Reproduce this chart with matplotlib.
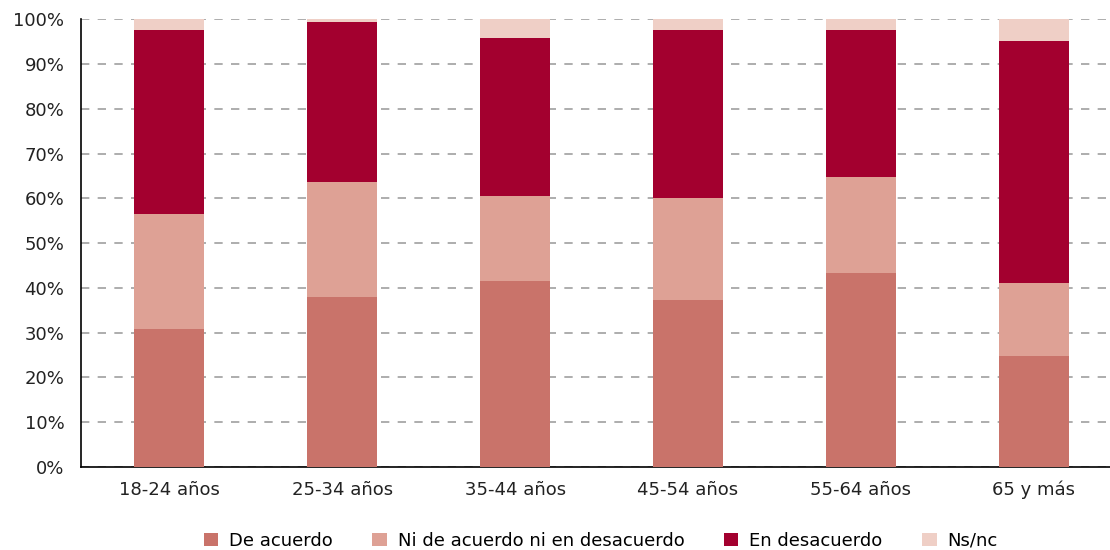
import matplotlib.pyplot as plt
import numpy as np

grupos = ["18-24 años", "25-34 años", "35-44 años", "45-54 años", "55-64 años", "65 y más"]
de_acuerdo = [30.8, 37.9, 41.5, 37.3, 43.3, 24.8]
ni_ni = [25.7, 25.7, 19.0, 22.7, 21.4, 16.3]
en_desacuerdo = [41.0, 35.7, 35.3, 37.5, 32.8, 54.0]
ns_nc = [2.5, 0.7, 4.2, 2.5, 2.5, 4.9]

series = [
    ("De acuerdo", de_acuerdo, "#C9736A"),
    ("Ni de acuerdo ni en desacuerdo", ni_ni, "#DEA195"),
    ("En desacuerdo", en_desacuerdo, "#A3002F"),
    ("Ns/nc", ns_nc, "#EFCFC6"),
]

plt.rcParams["font.family"] = ["DejaVu Sans"]
plt.rcParams["font.size"] = 13

fig = plt.figure(figsize=(11.1, 5.5), dpi=100)
ax = fig.add_axes([0.073, 0.151, 0.927, 0.814])

x = np.arange(len(grupos))
bottom = np.zeros(len(grupos))
for name, vals, color in series:
    ax.bar(x, vals, 0.405, bottom=bottom, color=color, label=name, zorder=3)
    bottom += np.array(vals)

ax.set_ylim(0, 100)
ax.set_xlim(-0.51, 5.44)
ax.set_yticks(range(0, 101, 10))
ax.set_yticklabels([f"{v}%" for v in range(0, 101, 10)])
ax.set_xticks(x)
ax.set_xticklabels(grupos)
ax.yaxis.grid(True, linestyle=(0, (5, 5)), color="#A0A0A0", linewidth=1.2, zorder=0)
ax.tick_params(axis="both", length=0, colors="#222222")
ax.tick_params(axis="y", pad=12)
ax.tick_params(axis="x", pad=10)
for s in ["top", "right"]:
    ax.spines[s].set_visible(False)
for s in ["left", "bottom"]:
    ax.spines[s].set_color("black")
    ax.spines[s].set_linewidth(1.2)

ax.legend(loc="center", bbox_to_anchor=(0.505, -0.165), ncol=4, frameon=False,
          handlelength=0.8, handleheight=0.8, handletextpad=0.6, columnspacing=2.2)

fig.savefig("out.png", dpi=100)
